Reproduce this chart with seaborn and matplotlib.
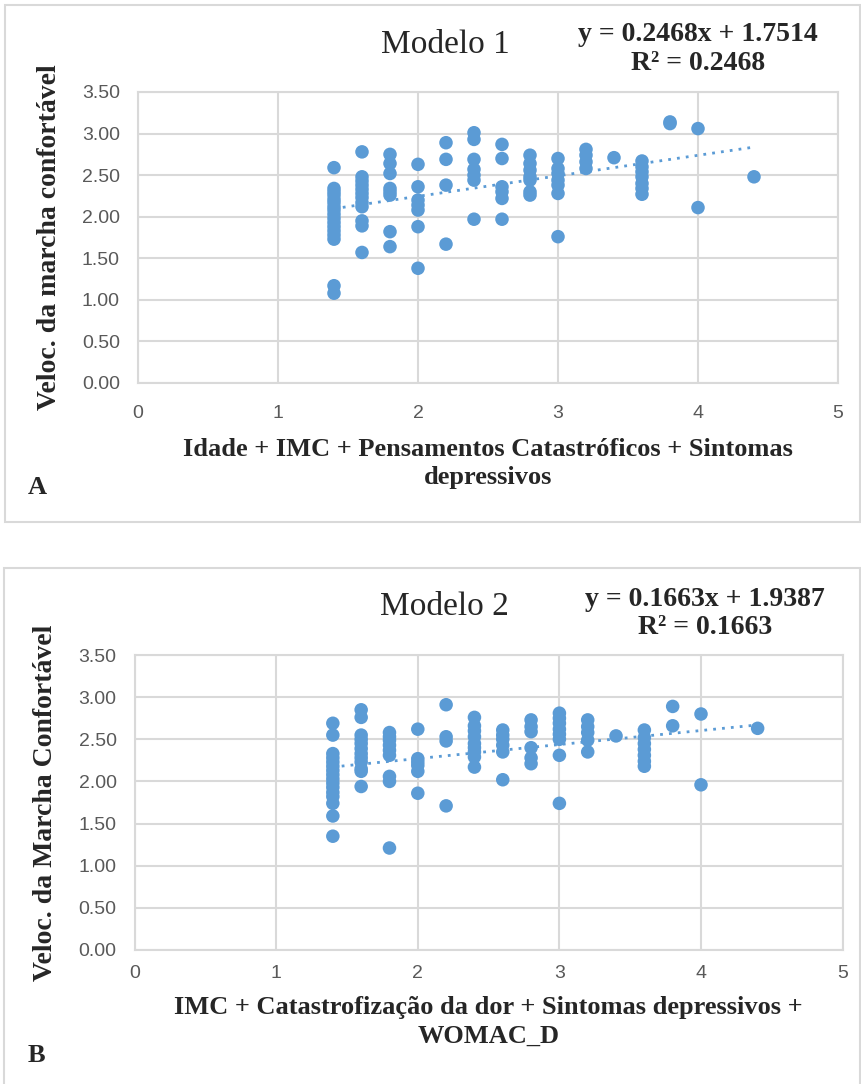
import numpy as np
import pandas as pd
import matplotlib
matplotlib.use("Agg")
import matplotlib.pyplot as plt
from matplotlib.patches import Rectangle
import seaborn as sns

# ---- data ----
x_levels = [1.4, 1.6, 1.8, 2.0, 2.2, 2.4, 2.6, 2.8, 3.0, 3.2, 3.4, 3.6, 3.8, 4.0, 4.4]

vel_a = [
    [2.59, 2.34, 2.30, 2.26, 2.21, 2.17, 2.12, 2.08, 2.03, 1.98, 1.93, 1.88, 1.83, 1.78, 1.73, 1.17, 1.08],
    [2.78, 2.48, 2.43, 2.38, 2.33, 2.28, 2.23, 2.17, 2.12, 1.95, 1.89, 1.57],
    [2.75, 2.64, 2.52, 2.34, 2.30, 2.26, 1.82, 1.64],
    [2.63, 2.36, 2.20, 2.14, 2.08, 1.88, 1.38],
    [2.89, 2.69, 2.38, 1.67],
    [3.01, 2.93, 2.69, 2.57, 2.50, 2.44, 1.97],
    [2.87, 2.70, 2.36, 2.30, 2.22, 1.97],
    [2.74, 2.64, 2.56, 2.48, 2.44, 2.30, 2.26],
    [2.70, 2.58, 2.52, 2.44, 2.38, 2.28, 1.76],
    [2.81, 2.74, 2.66, 2.58],
    [2.71],
    [2.67, 2.60, 2.54, 2.48, 2.40, 2.34, 2.27],
    [3.14, 3.12],
    [3.06, 2.11],
    [2.48],
]

vel_b = [
    [2.69, 2.55, 2.33, 2.28, 2.23, 2.18, 2.13, 2.08, 2.03, 1.98, 1.93, 1.87, 1.82, 1.74, 1.59, 1.35],
    [2.85, 2.76, 2.55, 2.50, 2.45, 2.39, 2.33, 2.28, 2.23, 2.15, 2.12, 1.94],
    [2.58, 2.53, 2.49, 2.43, 2.37, 2.31, 2.06, 2.00, 1.21],
    [2.62, 2.27, 2.23, 2.19, 2.12, 1.86],
    [2.91, 2.53, 2.48, 1.71],
    [2.76, 2.66, 2.60, 2.53, 2.45, 2.40, 2.35, 2.29, 2.17],
    [2.61, 2.55, 2.50, 2.43, 2.35, 2.02],
    [2.73, 2.65, 2.59, 2.40, 2.28, 2.21],
    [2.81, 2.75, 2.69, 2.62, 2.56, 2.50, 2.31, 1.74],
    [2.73, 2.65, 2.58, 2.49, 2.35],
    [2.54],
    [2.61, 2.52, 2.45, 2.38, 2.31, 2.24, 2.18],
    [2.89, 2.66],
    [2.80, 1.96],
    [2.63],
]

slope_a, icpt_a, r2_a = 0.2468, 1.7514, 0.2468
slope_b, icpt_b, r2_b = 0.1663, 1.9387, 0.1663

titles = ["Modelo 1", "Modelo 2"]
ylabels = ["Veloc. da marcha confortável", "Veloc. da Marcha Confortável"]
xlabels = ["Idade + IMC + Pensamentos Catastróficos + Sintomas\ndepressivos",
           "IMC + Catastrofização da dor + Sintomas depressivos +\nWOMAC_D"]
letters = ["A", "B"]

BLUE = "#5B9BD5"
GRID = "#D9D9D9"
TICK = "#595959"
SERIF = "Liberation Serif"


def to_frame(groups):
    xs, ys = [], []
    for xv, g in zip(x_levels, groups):
        xs += [xv] * len(g)
        ys += g
    return pd.DataFrame({"x": xs, "y": ys})


sns.set_style("white")
plt.rcParams["font.family"] = ["Liberation Sans", "DejaVu Sans"]

fig = plt.figure(figsize=(8.61, 10.84), dpi=100)

# panel frames
fig.patches.append(Rectangle((5 / 861, 1 - 522 / 1084), 855 / 861, 517 / 1084,
                             transform=fig.transFigure, fill=False, ec=GRID, lw=1.5))
fig.patches.append(Rectangle((4 / 861, 1 - 1090 / 1084), 856 / 861, 522 / 1084,
                             transform=fig.transFigure, fill=False, ec=GRID, lw=1.5))

ax_a = fig.add_axes([138 / 861, 1 - 383 / 1084, 700 / 861, 291 / 1084])
ax_b = fig.add_axes([134.6 / 861, 1 - 950 / 1084, 708 / 861, 295 / 1084])

# per panel: axes, data, fit, tick pad, xlabel y, title pos, equation pos
panels = [
    (ax_a, vel_a, slope_a, icpt_a, r2_a, 0, 16, -0.189, (0.439, 1.162), (0.80, 1.149)),
    (ax_b, vel_b, slope_b, icpt_b, r2_b, 1, 11, -0.156, (0.438, 1.163), (0.806, 1.141)),
]

for ax, groups, m, b, r2, i, xpad, xly, tpos, epos in panels:
    df = to_frame(groups)
    sns.scatterplot(data=df, x="x", y="y", ax=ax, color=BLUE, s=95,
                    edgecolor="none", zorder=3)
    xl = np.array([df["x"].min(), df["x"].max()])
    ax.plot(xl, m * xl + b, color=BLUE, lw=2, linestyle=(0, (1, 2.2)), zorder=2)

    ax.set_xlim(0, 5)
    ax.set_ylim(0, 3.5)
    ax.set_xticks(range(6))
    ax.set_yticks(np.arange(0, 3.51, 0.5))
    ax.set_yticklabels([f"{v:.2f}" for v in np.arange(0, 3.51, 0.5)])
    ax.grid(True, color=GRID, lw=1.5)
    ax.set_axisbelow(True)
    for s in ax.spines.values():
        s.set_color(GRID)
        s.set_linewidth(1.5)
    ax.tick_params(axis="both", length=0, labelsize=14, colors=TICK)
    ax.tick_params(axis="x", pad=xpad)
    ax.tick_params(axis="y", pad=13)

    ax.set_xlabel(xlabels[i], family=SERIF, fontweight="bold", fontsize=19,
                  linespacing=1.3)
    ax.xaxis.set_label_coords(0.5, xly)
    ax.set_ylabel(ylabels[i], family=SERIF, fontweight="bold", fontsize=20)
    ax.yaxis.set_label_coords(-0.108, 0.5)

    # title and trend equation
    ax.text(tpos[0], tpos[1], titles[i], transform=ax.transAxes,
            family=SERIF, fontsize=24, ha="center", va="center")
    ax.text(epos[0], epos[1], f"y = {m:.4f}x + {b:.4f}\nR² = {r2:.4f}",
            transform=ax.transAxes, family=SERIF, fontweight="bold",
            fontsize=20, ha="center", va="center", linespacing=1.2)

fig.text(28 / 861, 1 - 488 / 1084, letters[0], family=SERIF, fontweight="bold",
         fontsize=19, ha="left", va="center")
fig.text(28 / 861, 1 - 1055 / 1084, letters[1], family=SERIF, fontweight="bold",
         fontsize=19, ha="left", va="center")

fig.savefig("out.png", dpi=100)
